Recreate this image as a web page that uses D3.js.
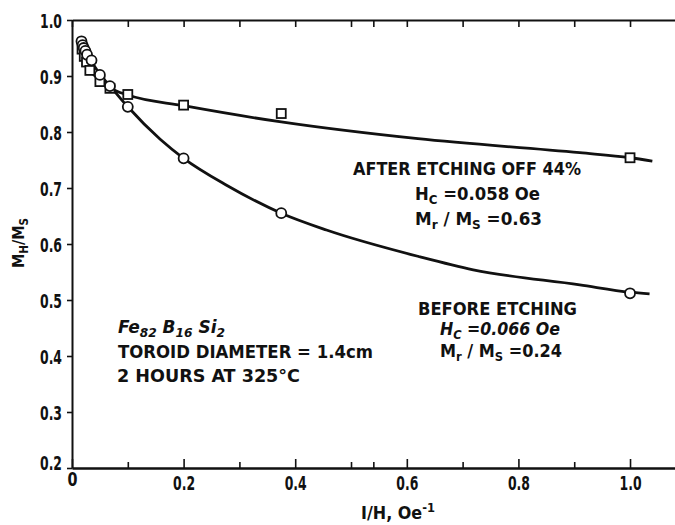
<!DOCTYPE html>
<html><head><meta charset="utf-8">
<script src="https://cdn.jsdelivr.net/npm/d3@7/dist/d3.min.js"></script>
<style>
body{margin:0;background:#fff;}
svg{display:block;}
text{font-family:"Liberation Sans Narrow","DejaVu Sans Condensed","Arial Narrow",sans-serif;font-weight:bold;fill:#111;}
</style></head>
<body><svg id="c" width="675" height="525"></svg>
<script>
// ---- data ----
const beforeX = [0.017,0.019,0.021,0.024,0.027,0.035,0.050,0.068,0.10,0.20,0.375,1.0];
const beforeY = [0.962,0.955,0.950,0.945,0.938,0.928,0.902,0.882,0.845,0.753,0.655,0.512];
const afterX  = [0.018,0.022,0.026,0.032,0.050,0.068,0.10,0.20,0.375,1.0];
const afterY  = [0.948,0.935,0.925,0.910,0.890,0.878,0.867,0.848,0.833,0.754];
// fitted curves (as drawn)
const beforeCurveX = [0.015,0.03,0.05,0.07,0.10,0.158,0.20,0.277,0.375,0.456,0.624,0.719,0.91,1.0,1.035];
const beforeCurveY = [0.966,0.935,0.903,0.880,0.845,0.787,0.753,0.705,0.655,0.625,0.577,0.554,0.527,0.514,0.511];
const afterCurveX  = [0.015,0.03,0.05,0.07,0.10,0.20,0.375,0.62,0.91,1.0,1.04];
const afterCurveY  = [0.958,0.915,0.893,0.878,0.866,0.847,0.818,0.788,0.763,0.754,0.748];
const xMajorTicks = [0,0.2,0.4,0.6,0.8,1.0];
const xMajorLabels = ["0","0.2","0.4","0.6","0.8","1.0"];
const xMinorTicks = [0.1,0.3,0.5,0.54,0.7,0.9];
const yTicks = [0.2,0.3,0.4,0.5,0.6,0.7,0.8,0.9,1.0];
const yLabels = ["0.2","0.3","0.4","0.5","0.6","0.7","0.8","0.9","1.0"];

const svg = d3.select("#c");
const x = d3.scaleLinear().domain([0,1.0806]).range([72,675]);
const y = d3.scaleLinear().domain([0.2,1.0]).range([468,20]);

// axes
const gB = svg.append("g").attr("transform","translate(0,468)")
  .call(d3.axisBottom(x).tickValues(xMajorTicks).tickFormat((d,i)=>xMajorLabels[i]).tickSizeInner(-9).tickSizeOuter(0).tickPadding(8));
svg.append("g").attr("transform","translate(0,468)")
  .call(d3.axisBottom(x).tickValues(xMinorTicks).tickFormat("").tickSizeInner(-6).tickSizeOuter(0));
svg.append("g").attr("transform","translate(0,20)")
  .call(d3.axisTop(x).tickValues(xMajorTicks.concat(xMinorTicks)).tickFormat("").tickSizeInner(-7).tickSizeOuter(0));
const gL = svg.append("g").attr("transform","translate(72,0)")
  .call(d3.axisLeft(y).tickValues(yTicks).tickFormat((d,i)=>yLabels[i]).tickSizeInner(5).tickSizeOuter(0).tickPadding(5));
svg.selectAll(".domain").attr("stroke","#111").attr("stroke-width",2);
svg.selectAll(".tick line").attr("stroke","#111").attr("stroke-width",1.6);
svg.selectAll(".tick text").style("font-size","19px").style("font-family",null).attr("fill","#111")
  .attr("textLength",function(){ return this.textContent.length>1 ? 22 : 10; })
  .attr("lengthAdjust","spacingAndGlyphs");
gB.selectAll(".tick text").attr("dy","0.75em");
gL.selectAll(".tick text").attr("dy","0.38em");
// 0.2 label sits at the corner, 0 just below
gL.selectAll(".tick").filter(d=>d===0.2).select("text").attr("dy","0.1em");
gB.selectAll(".tick").filter(d=>d===0).select("text").attr("dy","0.55em");

// curves
const line = d3.line().x(d=>x(d[0])).y(d=>y(d[1])).curve(d3.curveMonotoneX);
svg.append("path").datum(afterCurveX.map((v,i)=>[v,afterCurveY[i]]))
  .attr("d",line).attr("fill","none").attr("stroke","#111").attr("stroke-width",2.8);
svg.append("path").datum(beforeCurveX.map((v,i)=>[v,beforeCurveY[i]]))
  .attr("d",line).attr("fill","none").attr("stroke","#111").attr("stroke-width",2.8);

// markers
const sq = 9;
svg.append("g").selectAll("rect").data(afterX.map((v,i)=>[v,afterY[i]])).join("rect")
  .attr("x",d=>x(d[0])-sq/2).attr("y",d=>y(d[1])-sq/2).attr("width",sq).attr("height",sq)
  .attr("fill","#fff").attr("stroke","#111").attr("stroke-width",1.8);
svg.append("g").selectAll("circle").data(beforeX.map((v,i)=>[v,beforeY[i]])).join("circle")
  .attr("cx",d=>x(d[0])).attr("cy",d=>y(d[1])).attr("r",5)
  .attr("fill","#fff").attr("stroke","#111").attr("stroke-width",1.8);

// text helper: parts = [[text, "sub"|"sup"|null], ...]
function rich(xp, yp, parts, size, opts={}){
  const t = svg.append("text").attr("x",xp).attr("y",yp).style("font-size",size+"px");
  if(opts.italic) t.style("font-style","italic");
  if(opts.anchor) t.attr("text-anchor",opts.anchor);
  if(opts.len) t.attr("textLength",opts.len).attr("lengthAdjust","spacingAndGlyphs");
  parts.forEach(p=>{
    const s = t.append("tspan").text(p[0]);
    if(p[1]==="sub"){ s.attr("dy",4).style("font-size",(size*0.72)+"px"); }
    else if(p[1]==="sup"){ s.attr("dy",-7).style("font-size",(size*0.72)+"px"); }
    else if(p[1]==="back"){ s.attr("dy",-4); }
  });
  return t;
}

// after etching block
rich(353,175,[["AFTER ETCHING OFF 44%"]],18,{len:228});
rich(415,200,[["H"],["C","sub"],[" =0.058 Oe","back"]],18,{len:125});
rich(415,225,[["M"],["r","sub"],[" / M","back"],["S","sub"],[" =0.63","back"]],18,{len:127});
// before etching block
rich(418,315,[["BEFORE ETCHING"]],18,{len:159});
rich(440,335,[["H"],["C","sub"],[" =0.066 Oe","back"]],18,{len:120,italic:true});
rich(440,357,[["M"],["r","sub"],[" / M","back"],["S","sub"],[" =0.24","back"]],18,{len:122});
// sample info
rich(118,333,[["Fe"],["82","sub"],[" B","back"],["16","sub"],[" Si","back"],["2","sub"]],18,{len:107,italic:true});
rich(118,358,[["TOROID DIAMETER = 1.4cm"]],18,{len:255});
rich(117,382,[["2 HOURS AT 325°C"]],18,{len:183});

// axis titles
rich(398,519,[["I/H, Oe"],["-1","sup"]],17,{anchor:"middle",len:74});
const yt = rich(0,0,[["M"],["H","sub"],["/M","back"],["S","sub"]],16,{anchor:"middle"});
yt.attr("transform","translate(24,243) rotate(-90)");
</script></body></html>
